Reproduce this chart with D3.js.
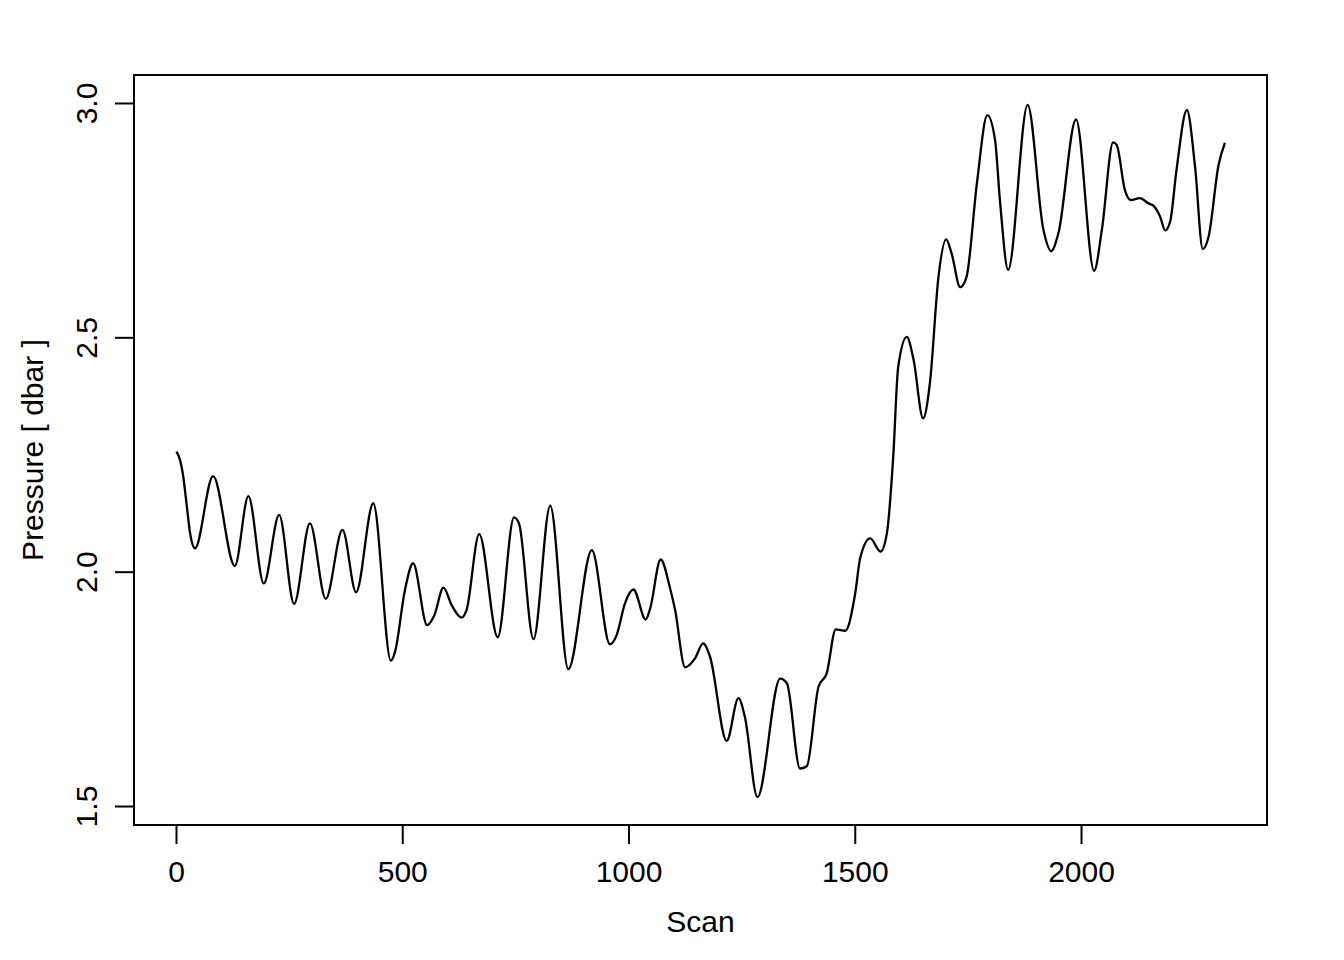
<!DOCTYPE html>
<html>
<head>
<meta charset="utf-8">
<script src="https://cdn.jsdelivr.net/npm/d3@7/dist/d3.min.js"></script>
<style>
  html, body { margin: 0; padding: 0; background: #ffffff; }
  svg text { font-family: "Liberation Sans", Arial, Helvetica, sans-serif; fill: #000; }
</style>
</head>
<body>
<svg id="chart" width="1344" height="960"></svg>
<script>
// ---- data ----
const scan = [1, 9, 16, 24, 31, 42, 82, 130, 160, 194, 228, 261, 296, 331, 368, 398, 436, 475, 484, 506, 524, 555, 571, 591, 609, 631, 642, 670, 711, 747, 758, 790, 827, 867, 919, 959, 974, 992, 1011, 1038, 1048, 1071, 1092, 1103, 1125, 1147, 1165, 1180, 1217, 1243, 1257, 1285, 1335, 1350, 1379, 1394, 1420, 1438, 1458, 1479, 1501, 1512, 1534, 1557, 1571, 1585, 1596, 1615, 1630, 1651, 1666, 1685, 1702, 1714, 1733, 1747, 1770, 1793, 1810, 1821, 1839, 1882, 1917, 1934, 1950, 1989, 2029, 2046, 2071, 2079, 2097, 2110, 2130, 2149, 2161, 2175, 2186, 2197, 2211, 2234, 2252, 2269, 2282, 2304, 2318];
const pressure = [2.256, 2.238, 2.203, 2.139, 2.083, 2.050, 2.204, 2.012, 2.161, 1.975, 2.121, 1.931, 2.103, 1.942, 2.089, 1.956, 2.146, 1.810, 1.829, 1.961, 2.018, 1.886, 1.907, 1.966, 1.929, 1.902, 1.918, 2.080, 1.860, 2.116, 2.103, 1.856, 2.141, 1.792, 2.046, 1.845, 1.865, 1.932, 1.962, 1.898, 1.922, 2.026, 1.964, 1.918, 1.796, 1.815, 1.847, 1.819, 1.639, 1.730, 1.691, 1.519, 1.772, 1.762, 1.580, 1.585, 1.755, 1.783, 1.877, 1.874, 1.954, 2.029, 2.071, 2.043, 2.082, 2.245, 2.437, 2.501, 2.452, 2.327, 2.402, 2.629, 2.709, 2.679, 2.607, 2.629, 2.829, 2.974, 2.921, 2.790, 2.644, 2.996, 2.729, 2.684, 2.722, 2.965, 2.642, 2.729, 2.916, 2.910, 2.814, 2.793, 2.797, 2.786, 2.780, 2.757, 2.728, 2.747, 2.857, 2.985, 2.864, 2.688, 2.715, 2.868, 2.915];
const xTicks = [0, 500, 1000, 1500, 2000];
const yTicks = [1.5, 2.0, 2.5, 3.0];
const xLabel = "Scan";
const yLabel = "Pressure [ dbar ]";

// ---- layout ----
const box = { left: 134, right: 1267, top: 75, bottom: 825 };
const fontSize = 30;
const tick = 19;

const svg = d3.select("#chart");
svg.append("rect").attr("width", 1344).attr("height", 960).attr("fill", "#fff");

const x = d3.scaleLinear().domain([-92.8, 2411]).range([box.left, box.right]);
const y = d3.scaleLinear().domain([1.4595, 3.0597]).range([box.bottom, box.top]);

const pts = scan.map((s, i) => [s, pressure[i]]);

// data line
svg.append("path")
  .datum(pts)
  .attr("fill", "none")
  .attr("stroke", "#000")
  .attr("stroke-width", 2.3)
  .attr("stroke-linejoin", "round")
  .attr("d", d3.line().x(d => x(d[0])).y(d => y(d[1])).curve(d3.curveMonotoneX));

// box
svg.append("rect")
  .attr("x", box.left).attr("y", box.top)
  .attr("width", box.right - box.left).attr("height", box.bottom - box.top)
  .attr("fill", "none").attr("stroke", "#000").attr("stroke-width", 2);

// x axis
const gx = svg.append("g")
  .attr("transform", `translate(0,${box.bottom})`)
  .call(d3.axisBottom(x).tickValues(xTicks).tickSize(tick).tickSizeOuter(0).tickPadding(36 - tick).tickFormat(d3.format("d")));
gx.select(".domain").remove();
gx.selectAll(".tick line").attr("stroke", "#000").attr("stroke-width", 2);
gx.selectAll(".tick text").attr("font-size", fontSize).attr("font-family", null);

// y axis
const gy = svg.append("g")
  .attr("transform", `translate(${box.left},0)`)
  .call(d3.axisLeft(y).tickValues(yTicks).tickSize(tick).tickSizeOuter(0).tickFormat(d3.format(".1f")));
gy.select(".domain").remove();
gy.selectAll(".tick line").attr("stroke", "#000").attr("stroke-width", 2);
gy.selectAll(".tick text")
  .attr("font-size", fontSize).attr("font-family", null)
  .attr("text-anchor", "middle")
  .attr("transform", "rotate(-90)")
  .attr("x", 0).attr("y", -37).attr("dy", 0);

// axis titles
svg.append("text")
  .attr("x", (box.left + box.right) / 2).attr("y", 932)
  .attr("text-anchor", "middle").attr("font-size", fontSize)
  .text(xLabel);
svg.append("text")
  .attr("transform", `translate(43,${(box.top + box.bottom) / 2}) rotate(-90)`)
  .attr("text-anchor", "middle").attr("font-size", fontSize)
  .text(yLabel);
</script>
</body>
</html>
